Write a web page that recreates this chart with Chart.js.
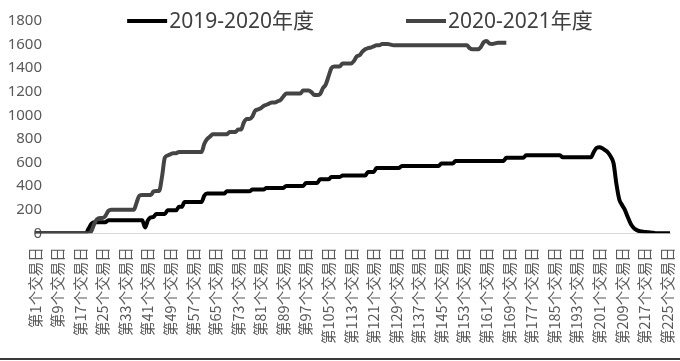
<!DOCTYPE html>
<html>
<head>
<meta charset="utf-8">
<script src="https://cdn.jsdelivr.net/npm/chart.js@4"></script>
<style>
  html, body { margin: 0; padding: 0; background: #fff; }
  #wrap { position: relative; width: 680px; height: 361px; }
  #bottomRule { position: absolute; left: 0; top: 358px; width: 680px; height: 2px; background: #3a3a3a; }
</style>
</head>
<body>
<div id="wrap">
  <canvas id="chart"></canvas>
  <div id="bottomRule"></div>
</div>
<script>
// 交易日序号（第1个 … 第226个）
const dayCount = 226;
const dayLabels = Array.from({ length: dayCount }, (_, i) => '第' + (i + 1) + '个交易日');

// 2019-2020年度
const season1920 = [
  0,0,0,0,0,0,0,0,0,0,
  0,0,0,0,0,0,0,0,0,40,
  80,95,95,95,95,95,112,112,112,112,
  112,112,112,112,112,112,112,112,112,50,
  110,135,140,165,165,165,165,195,195,195,
  195,225,225,265,265,265,265,265,265,265,
  320,337,337,337,337,337,337,337,357,357,
  357,357,357,357,357,357,357,371,371,371,
  371,371,385,385,385,385,385,385,385,402,
  402,402,402,402,402,402,427,427,427,427,
  427,458,458,458,458,478,478,478,478,490,
  490,490,490,490,490,490,490,490,520,520,
  520,554,554,554,554,554,554,554,554,554,
  572,572,572,572,572,572,572,572,572,572,
  572,572,572,572,592,592,592,592,592,614,
  614,614,614,614,614,614,614,614,614,614,
  614,614,614,614,614,614,614,640,640,640,
  640,640,640,640,662,662,662,662,662,662,
  662,662,662,662,662,662,662,645,645,645,
  645,645,645,645,645,645,645,645,690,725,
  730,722,705,685,650,594,420,290,240,200,
  140,85,50,30,20,15,12,10,8,5,
  0,0,0,0,0,0
];

// 2020-2021年度
const season2021 = [
  0,0,0,0,0,0,0,0,0,0,
  0,0,0,0,0,0,0,0,0,0,
  20,80,120,130,130,150,190,200,200,200,
  200,200,200,200,200,200,260,320,325,325,
  325,325,355,360,360,480,640,660,670,680,
  680,690,690,690,690,690,690,690,690,690,
  760,800,820,840,840,840,840,840,840,860,
  860,860,880,880,940,970,970,990,1040,1050,
  1060,1080,1090,1100,1110,1110,1120,1130,1160,1186,
  1186,1186,1186,1186,1186,1210,1210,1210,1195,1172,
  1172,1180,1230,1260,1330,1400,1415,1415,1415,1440,
  1440,1440,1440,1460,1500,1510,1540,1560,1570,1575,
  1585,1595,1595,1605,1605,1605,1600,1595,1595,1595,
  1595,1595,1595,1595,1595,1595,1595,1595,1595,1595,
  1595,1595,1595,1595,1595,1595,1595,1595,1595,1595,
  1595,1595,1595,1595,1570,1560,1560,1560,1580,1620,
  1630,1610,1605,1610,1615,1615,1615,1615
];

const yTicks = [0, 200, 400, 600, 800, 1000, 1200, 1400, 1600, 1800];

// legend drawn over the top of the plot, like the original
const topLegend = {
  id: 'topLegend',
  afterDraw(chart) {
    const ctx = chart.ctx;
    ctx.save();
    ctx.font = '21px "Noto Sans", "Noto Sans CJK SC"';
    ctx.textBaseline = 'middle';
    ctx.textAlign = 'left';
    const items = chart.data.datasets.map(ds => ({ text: ds.label, color: ds.borderColor, w: ctx.measureText(ds.label).width }));
    const sample = 40, gap = 2, itemGap = 92;
    const total = items.reduce((s, it) => s + sample + gap + it.w, 0) + itemGap * (items.length - 1);
    let x = 360 - total / 2;
    const y = 21;
    items.forEach(it => {
      ctx.strokeStyle = it.color;
      ctx.lineWidth = 4;
      ctx.beginPath(); ctx.moveTo(x, y); ctx.lineTo(x + sample, y); ctx.stroke();
      ctx.fillStyle = '#404040';
      ctx.fillText(it.text, x + sample + gap, y + 1);
      x += sample + gap + it.w + itemGap;
    });
    ctx.restore();
  }
};

new Chart(document.getElementById('chart'), {
  type: 'line',
  data: {
    labels: dayLabels,
    datasets: [
      { label: '2019-2020年度', data: season1920, borderColor: '#000000', backgroundColor: '#000000',
        borderWidth: 4, pointRadius: 0, cubicInterpolationMode: 'monotone', order: 2 },
      { label: '2020-2021年度', data: season2021, borderColor: '#444444', backgroundColor: '#444444',
        borderWidth: 4, pointRadius: 0, cubicInterpolationMode: 'monotone', order: 1 }
    ]
  },
  options: {
    responsive: true,
    maintainAspectRatio: false,
    animation: false,
    layout: { padding: { left: 0, right: 10, top: 21, bottom: 3 } },
    plugins: { legend: { display: false }, tooltip: { enabled: false } },
    scales: {
      x: {
        grid: { display: false, drawTicks: false },
        border: { display: true, color: '#d9d9d9', width: 1 },
        afterFit: s => { s.paddingLeft = 0; s.paddingRight = 0; },
        ticks: {
          autoSkip: false, maxRotation: 90, minRotation: 90, padding: 14,
          color: '#595959', font: { family: '"Noto Sans CJK SC"', size: 14.5 },
          callback: (v, i) => (i % 8 === 0 ? dayLabels[i] : '')
        }
      },
      y: {
        min: 0, max: 1800,
        afterBuildTicks: axis => { axis.ticks = yTicks.map(v => ({ value: v })); },
        afterFit: s => {
          s.width = 35; s.paddingTop = 0; s.paddingBottom = 0;
          // labels sit slightly over the plot edge in the original, so don't clip them to the axis box
          s._computeLabelArea = () => undefined;
        },
        grid: { display: false, drawTicks: false },
        border: { display: false },
        ticks: { padding: -7, color: '#595959', font: { family: '"Noto Sans"', size: 15 },
          callback: v => String(v) }
      }
    }
  },
  plugins: [topLegend]
});
</script>
</body>
</html>
